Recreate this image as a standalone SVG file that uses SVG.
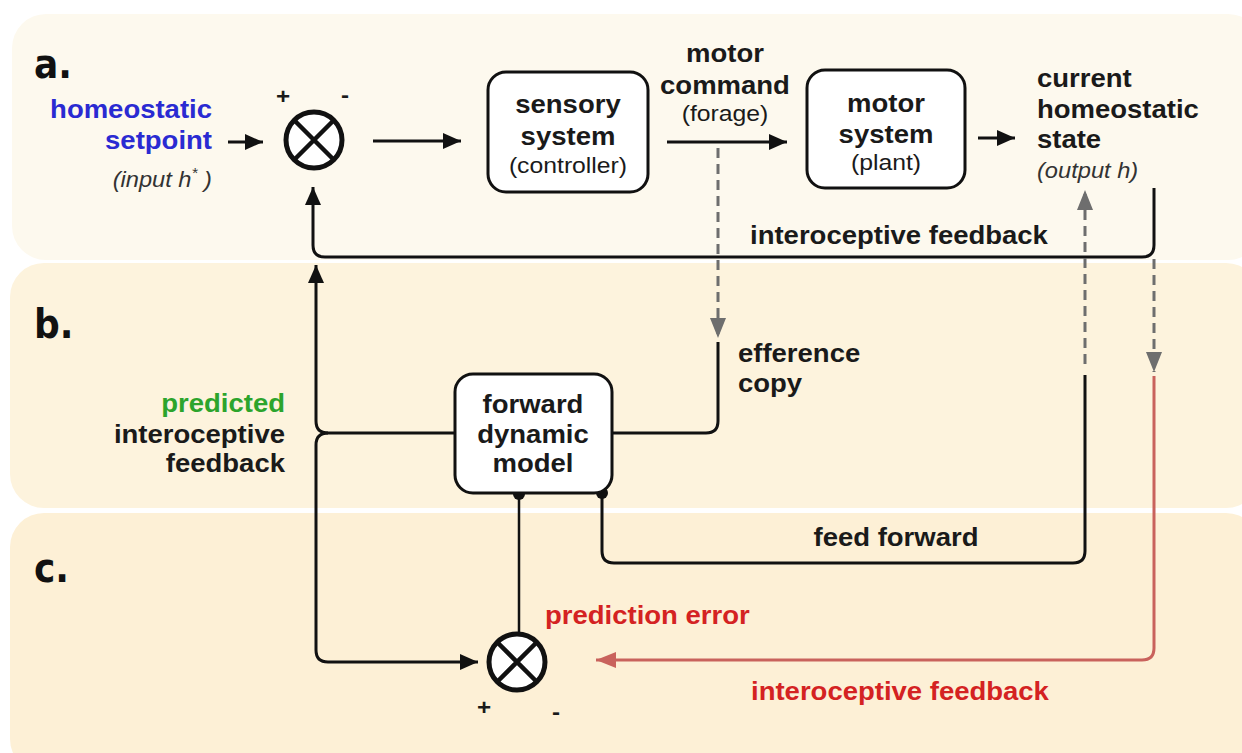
<svg xmlns="http://www.w3.org/2000/svg" width="1242" height="753" viewBox="0 0 1242 753">
<style>
text{font-family:"Liberation Sans",Arial,sans-serif;font-weight:bold;font-size:25px;fill:#1a1a1a}
.m{text-anchor:middle;transform-box:fill-box;transform-origin:center;transform:scaleX(1.1)}
.e{text-anchor:end;transform-box:fill-box;transform-origin:right center;transform:scaleX(1.1)}
.s{text-anchor:start;transform-box:fill-box;transform-origin:left center;transform:scaleX(1.1)}
.sub{font-weight:normal;font-size:22.5px}
.it{font-style:italic;font-weight:normal;font-size:21.5px;fill:#333}
.lbl{font-family:"Liberation Sans Narrow","DejaVu Sans Condensed",sans-serif;font-size:40px;fill:#111}
.blue{fill:#2a2ad2}.green{fill:#2ca42c}.red{fill:#d42222}
.sign{font-size:22px}
.ln{fill:none;stroke:#111;stroke-width:3}
.dash{fill:none;stroke:#6e6e6e;stroke-width:3;stroke-dasharray:10 6}
.redl{fill:none;stroke:#c9625c;stroke-width:3}
.box{fill:#fff;stroke:#111;stroke-width:3}
.sum{fill:#fff;stroke:#111;stroke-width:5}
.x{stroke:#111;stroke-width:4.5}
</style>
<defs>
<marker id="ab" markerUnits="userSpaceOnUse" markerWidth="20" markerHeight="18" refX="18" refY="8" orient="auto"><path d="M0,0 L18,8 L0,16 z" fill="#111"/></marker>
<marker id="ag" markerUnits="userSpaceOnUse" markerWidth="22" markerHeight="18" refX="20" refY="8" orient="auto"><path d="M0,0 L20,8 L0,16 z" fill="#6e6e6e"/></marker>
<marker id="ar" markerUnits="userSpaceOnUse" markerWidth="22" markerHeight="18" refX="20" refY="8" orient="auto"><path d="M0,0 L20,8 L0,16 z" fill="#c9625c"/></marker>
</defs>
<rect width="1242" height="753" fill="#fff"/>
<g id="panels">
<rect x="12" y="14" width="1250" height="246" rx="34" fill="#fdf9ee"/>
<rect x="10" y="263" width="1250" height="245" rx="34" fill="#fdf3dd"/>
<rect x="10" y="513" width="1250" height="260" rx="34" fill="#fdf0d6"/>
<text class="lbl" x="34" y="78">a.</text>
<text class="lbl" x="34" y="338">b.</text>
<text class="lbl" x="34" y="582">c.</text>
</g>
<g id="connectors">
<path class="ln" d="M228,142 H263" marker-end="url(#ab)"/>
<path class="ln" d="M373,141 H461" marker-end="url(#ab)"/>
<path class="ln" d="M667,142 H787" marker-end="url(#ab)"/>
<path class="ln" d="M978,138 H1015" marker-end="url(#ab)"/>
<path class="ln" d="M1154,188 V245 Q1154,257 1142,257 H325 Q313,257 313,245 V187" marker-end="url(#ab)"/>
<path class="dash" d="M718,148 V338" marker-end="url(#ag)"/>
<path class="dash" d="M1085,364 V190" marker-end="url(#ag)"/>
<path class="dash" d="M1154,259 V372" marker-end="url(#ag)"/>
<path class="ln" d="M612,433 H706 Q718,433 718,421 V342"/>
<path class="ln" d="M455,433 H328 Q316,433 316,421 V265" marker-end="url(#ab)"/>
<path class="ln" d="M328,433 Q316,433 316,445 V650 Q316,662 328,662 H478" marker-end="url(#ab)"/>
<path class="ln" d="M602,493 V551 Q602,563 614,563 H1073 Q1085,563 1085,551 V375"/>
<path class="ln" d="M519,494 V634" style="stroke-width:2.5"/>
<path class="redl" d="M1154,376 V648 Q1154,660 1142,660 H596" marker-end="url(#ar)"/>
<circle cx="519" cy="494" r="6" fill="#111"/>
<circle cx="602" cy="493" r="6" fill="#111"/>
<text class="m" x="899" y="244">interoceptive feedback</text>
<text class="s" x="738" y="362">efference</text>
<text class="s" x="738" y="392">copy</text>
<text class="m" x="896" y="546">feed forward</text>
<text class="s red" x="545" y="624">prediction error</text>
<text class="m red" x="900" y="700">interoceptive feedback</text>
</g>
<g id="setpoint">
<text class="e blue" x="212" y="118">homeostatic</text>
<text class="e blue" x="212" y="149">setpoint</text>
<text class="e it" x="212" y="187">(input h<tspan dy="-9" font-size="14">*</tspan><tspan dy="9"> )</tspan></text>
</g>
<g id="sum1">
<circle class="sum" cx="314" cy="140" r="28"/>
<path class="x" d="M294,120 L334,160 M334,120 L294,160"/>
<text class="m sign" x="283" y="104">+</text>
<text class="m sign" x="345" y="102">-</text>
</g>
<g id="sensory">
<rect class="box" x="488" y="72" width="160" height="120" rx="18"/>
<text class="m" x="568" y="113">sensory</text>
<text class="m" x="568" y="145">system</text>
<text class="m sub" x="568" y="173">(controller)</text>
</g>
<g id="motorcommand">
<text class="m" x="725" y="62">motor</text>
<text class="m" x="725" y="94">command</text>
<text class="m sub" x="725" y="121">(forage)</text>
</g>
<g id="motor">
<rect class="box" x="807" y="70" width="158" height="118" rx="18"/>
<text class="m" x="886" y="112">motor</text>
<text class="m" x="886" y="143">system</text>
<text class="m sub" x="886" y="170">(plant)</text>
</g>
<g id="state">
<text class="s" x="1037" y="87">current</text>
<text class="s" x="1037" y="118">homeostatic</text>
<text class="s" x="1037" y="148">state</text>
<text class="s it" x="1037" y="178">(output h)</text>
</g>
<g id="forward">
<rect class="box" x="455" y="374" width="157" height="119" rx="18"/>
<text class="m" x="533" y="413">forward</text>
<text class="m" x="533" y="443">dynamic</text>
<text class="m" x="533" y="472">model</text>
</g>
<g id="predicted">
<text class="e green" x="285" y="412">predicted</text>
<text class="e" x="285" y="443">interoceptive</text>
<text class="e" x="285" y="472">feedback</text>
</g>
<g id="sum2">
<circle class="sum" cx="517" cy="662" r="28"/>
<path class="x" d="M497,642 L537,682 M537,642 L497,682"/>
<text class="m sign" x="484" y="715">+</text>
<text class="m sign" x="556" y="719">-</text>
</g>
</svg>
